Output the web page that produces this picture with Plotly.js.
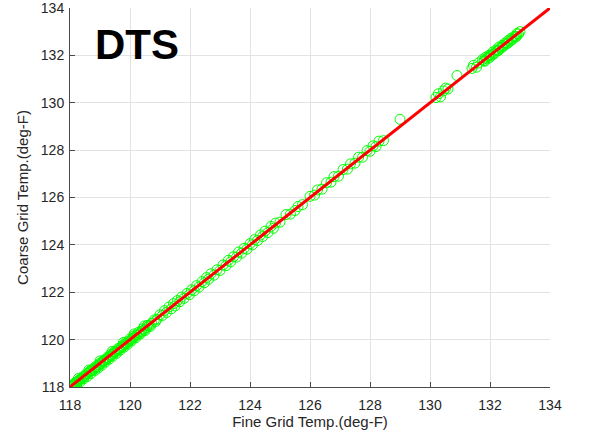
<!DOCTYPE html>
<html>
<head>
<meta charset="utf-8">
<script src="https://cdn.plot.ly/plotly-3.0.1.min.js"></script>
<style>
  html, body { margin: 0; padding: 0; background: #ffffff; }
  #chart { width: 610px; height: 433px; }
</style>
</head>
<body>
<div id="chart"></div>
<script>
// Probe temperatures (deg-F): fine grid vs coarse grid, low range
var fineLow = [118.02,118.05,118.08,118.13,118.16,118.19,118.24,118.27,118.31,118.37,
  118.40,118.42,118.48,118.52,118.55,118.61,118.66,118.68,118.72,118.79,
  118.82,118.85,118.90,118.96,118.99,119.03,119.09,119.11,119.14,119.20,
  119.24,119.27,119.33,119.36,119.38,119.45,119.49,119.51,119.57,119.60,
  119.63,119.70,119.73,119.76,119.82,119.86,119.88,119.95,120.00,120.02,
  120.09,120.12,120.16,120.23,120.27,120.31,120.38,120.42,120.46,120.55,
  120.58,120.63,120.72,120.81,120.90];
var coarseLow = [118.00,118.03,118.09,118.10,118.14,118.20,118.21,118.25,118.30,118.33,
  118.37,118.43,118.45,118.49,118.56,118.57,118.64,118.69,118.70,118.74,
  118.80,118.86,118.85,118.93,119.00,118.98,119.06,119.12,119.10,119.16,
  119.25,119.22,119.30,119.38,119.34,119.41,119.50,119.47,119.53,119.62,
  119.58,119.66,119.74,119.71,119.79,119.88,119.84,119.92,120.03,119.98,
  120.06,120.15,120.12,120.19,120.30,120.26,120.34,120.45,120.40,120.50,
  120.60,120.58,120.69,120.83,120.86];

// Additional low-range probes with wider scatter
var fineLowB = [118.10,118.22,118.34,118.46,118.58,118.70,118.83,118.94,119.06,119.18,
  119.30,119.42,119.55,119.67,119.80,119.92,120.05,120.20,120.35,120.50,
  120.68,120.85,118.28,118.63,119.00,119.40,119.78,120.14,120.48];
var coarseLowB = [118.02,118.12,118.22,118.35,118.45,118.57,118.70,118.80,118.92,119.05,
  119.17,119.30,119.42,119.55,119.68,119.80,119.94,120.08,120.24,120.38,
  120.56,120.76,118.36,118.72,119.10,119.50,119.88,120.24,120.58];

// Middle range
var fineMid = [121.0,121.08,121.15,121.22,121.3,121.38,121.45,121.5,121.58,121.66,
  121.72,121.8,121.9,121.98,122.05,122.14,122.22,122.3,122.4,122.48,
  122.55,122.62,122.7,122.8,122.9,123.0,123.1,123.2,123.28,123.35,
  123.45,123.55,123.62,123.72,123.8,123.9,124.0,124.08,124.15,124.25,
  124.35,124.42,124.5,124.6,124.7,124.78,124.85,125.0,125.2,125.35,
  125.5,125.6,125.75,126.0,126.15,126.25,126.4,126.55,126.7,126.8,
  126.95,127.1,127.25,127.35,127.5,127.62,127.75,127.9,128.0,128.1,
  128.2,128.3,128.45];
var coarseMid = [121.05,121.02,121.22,121.15,121.38,121.30,121.52,121.42,121.65,121.60,
  121.80,121.74,121.95,121.90,122.10,122.06,122.28,122.22,122.45,122.40,
  122.62,122.55,122.78,122.72,122.95,122.92,123.15,123.12,123.35,123.28,
  123.50,123.48,123.70,123.65,123.85,123.82,124.05,124.00,124.22,124.18,
  124.42,124.35,124.58,124.52,124.78,124.70,124.92,124.96,125.28,125.30,
  125.45,125.62,125.70,126.05,126.10,126.32,126.35,126.62,126.65,126.88,
  126.90,127.18,127.20,127.42,127.45,127.70,127.70,127.98,127.95,128.18,
  128.15,128.38,128.40];

// High range
var fineHigh = [129.0,130.2,130.28,130.35,130.45,130.52,130.6,130.9,
  131.4,131.45,131.55,131.62,
  131.75,131.8,131.85,131.9,131.95,132.0,132.05,132.1,132.15,132.2,
  132.25,132.3,132.35,132.4,132.45,132.5,132.55,132.6,132.65,132.7,
  132.75,132.8,132.85,132.9,132.95,133.0,
  131.82,131.98,132.12,132.28,132.42,132.58,132.72,132.88];
var coarseHigh = [129.3,130.22,130.38,130.25,130.5,130.62,130.58,131.15,
  131.45,131.58,131.5,131.68,
  131.82,131.78,131.92,131.85,131.98,132.02,132.0,132.15,132.1,132.22,
  132.2,132.35,132.3,132.42,132.4,132.52,132.5,132.62,132.58,132.72,
  132.68,132.8,132.78,132.92,132.9,133.0,
  131.75,131.9,132.05,132.2,132.35,132.5,132.65,132.8];

// Reference line y = x
var unityLine = [118, 134];
var tickValues = [118, 120, 122, 124, 126, 128, 130, 132, 134];

var fineTemp = fineLow.concat(fineLowB, fineMid, fineHigh);
var coarseTemp = coarseLow.concat(coarseLowB, coarseMid, coarseHigh);

var fontFamily = 'Arial, "Liberation Sans", Helvetica, sans-serif';
var inkColor = '#262626';

var traces = [
  {
    x: fineTemp, y: coarseTemp,
    type: 'scatter', mode: 'markers',
    marker: { symbol: 'circle-open', size: 10, color: '#00ff00',
              line: { width: 1, color: '#00ff00' } },
    hoverinfo: 'x+y'
  },
  {
    x: unityLine, y: unityLine,
    type: 'scatter', mode: 'lines',
    line: { color: '#ff0000', width: 3 },
    hoverinfo: 'skip'
  }
];

function axisStyle(titleText, isX) {
  return {
    range: [118, 134],
    tickmode: 'array',
    tickvals: tickValues,
    ticktext: tickValues.map(String),
    showgrid: true,
    gridcolor: '#e3e3e3',
    gridwidth: 1,
    zeroline: false,
    showline: true,
    linecolor: '#4a4a4a',
    linewidth: 1,
    ticks: 'inside',
    ticklen: 5,
    tickcolor: '#4a4a4a',
    ticklabelstandoff: isX ? 5 : 2,
    ticklabeloverflow: 'allow',
    tickfont: { family: fontFamily, size: 14, color: inkColor },
    title: { text: titleText, font: { family: fontFamily, size: 15, color: inkColor }, standoff: isX ? 4 : 8 },
    fixedrange: true
  };
}

var layout = {
  width: 610,
  height: 433,
  margin: { l: 70, r: 60, t: 8, b: 46 },
  paper_bgcolor: '#ffffff',
  plot_bgcolor: '#ffffff',
  showlegend: false,
  xaxis: axisStyle('Fine Grid Temp.(deg-F)', true),
  yaxis: axisStyle('Coarse Grid Temp.(deg-F)', false),
  annotations: [{
    text: '<b>DTS</b>',
    xref: 'paper', yref: 'paper',
    x: 0.048, y: 0.905,
    xanchor: 'left', yanchor: 'middle',
    showarrow: false,
    font: { family: fontFamily, size: 42, color: '#000000' }
  }]
};

Plotly.newPlot('chart', traces, layout, { displayModeBar: false, staticPlot: true });
</script>
</body>
</html>
